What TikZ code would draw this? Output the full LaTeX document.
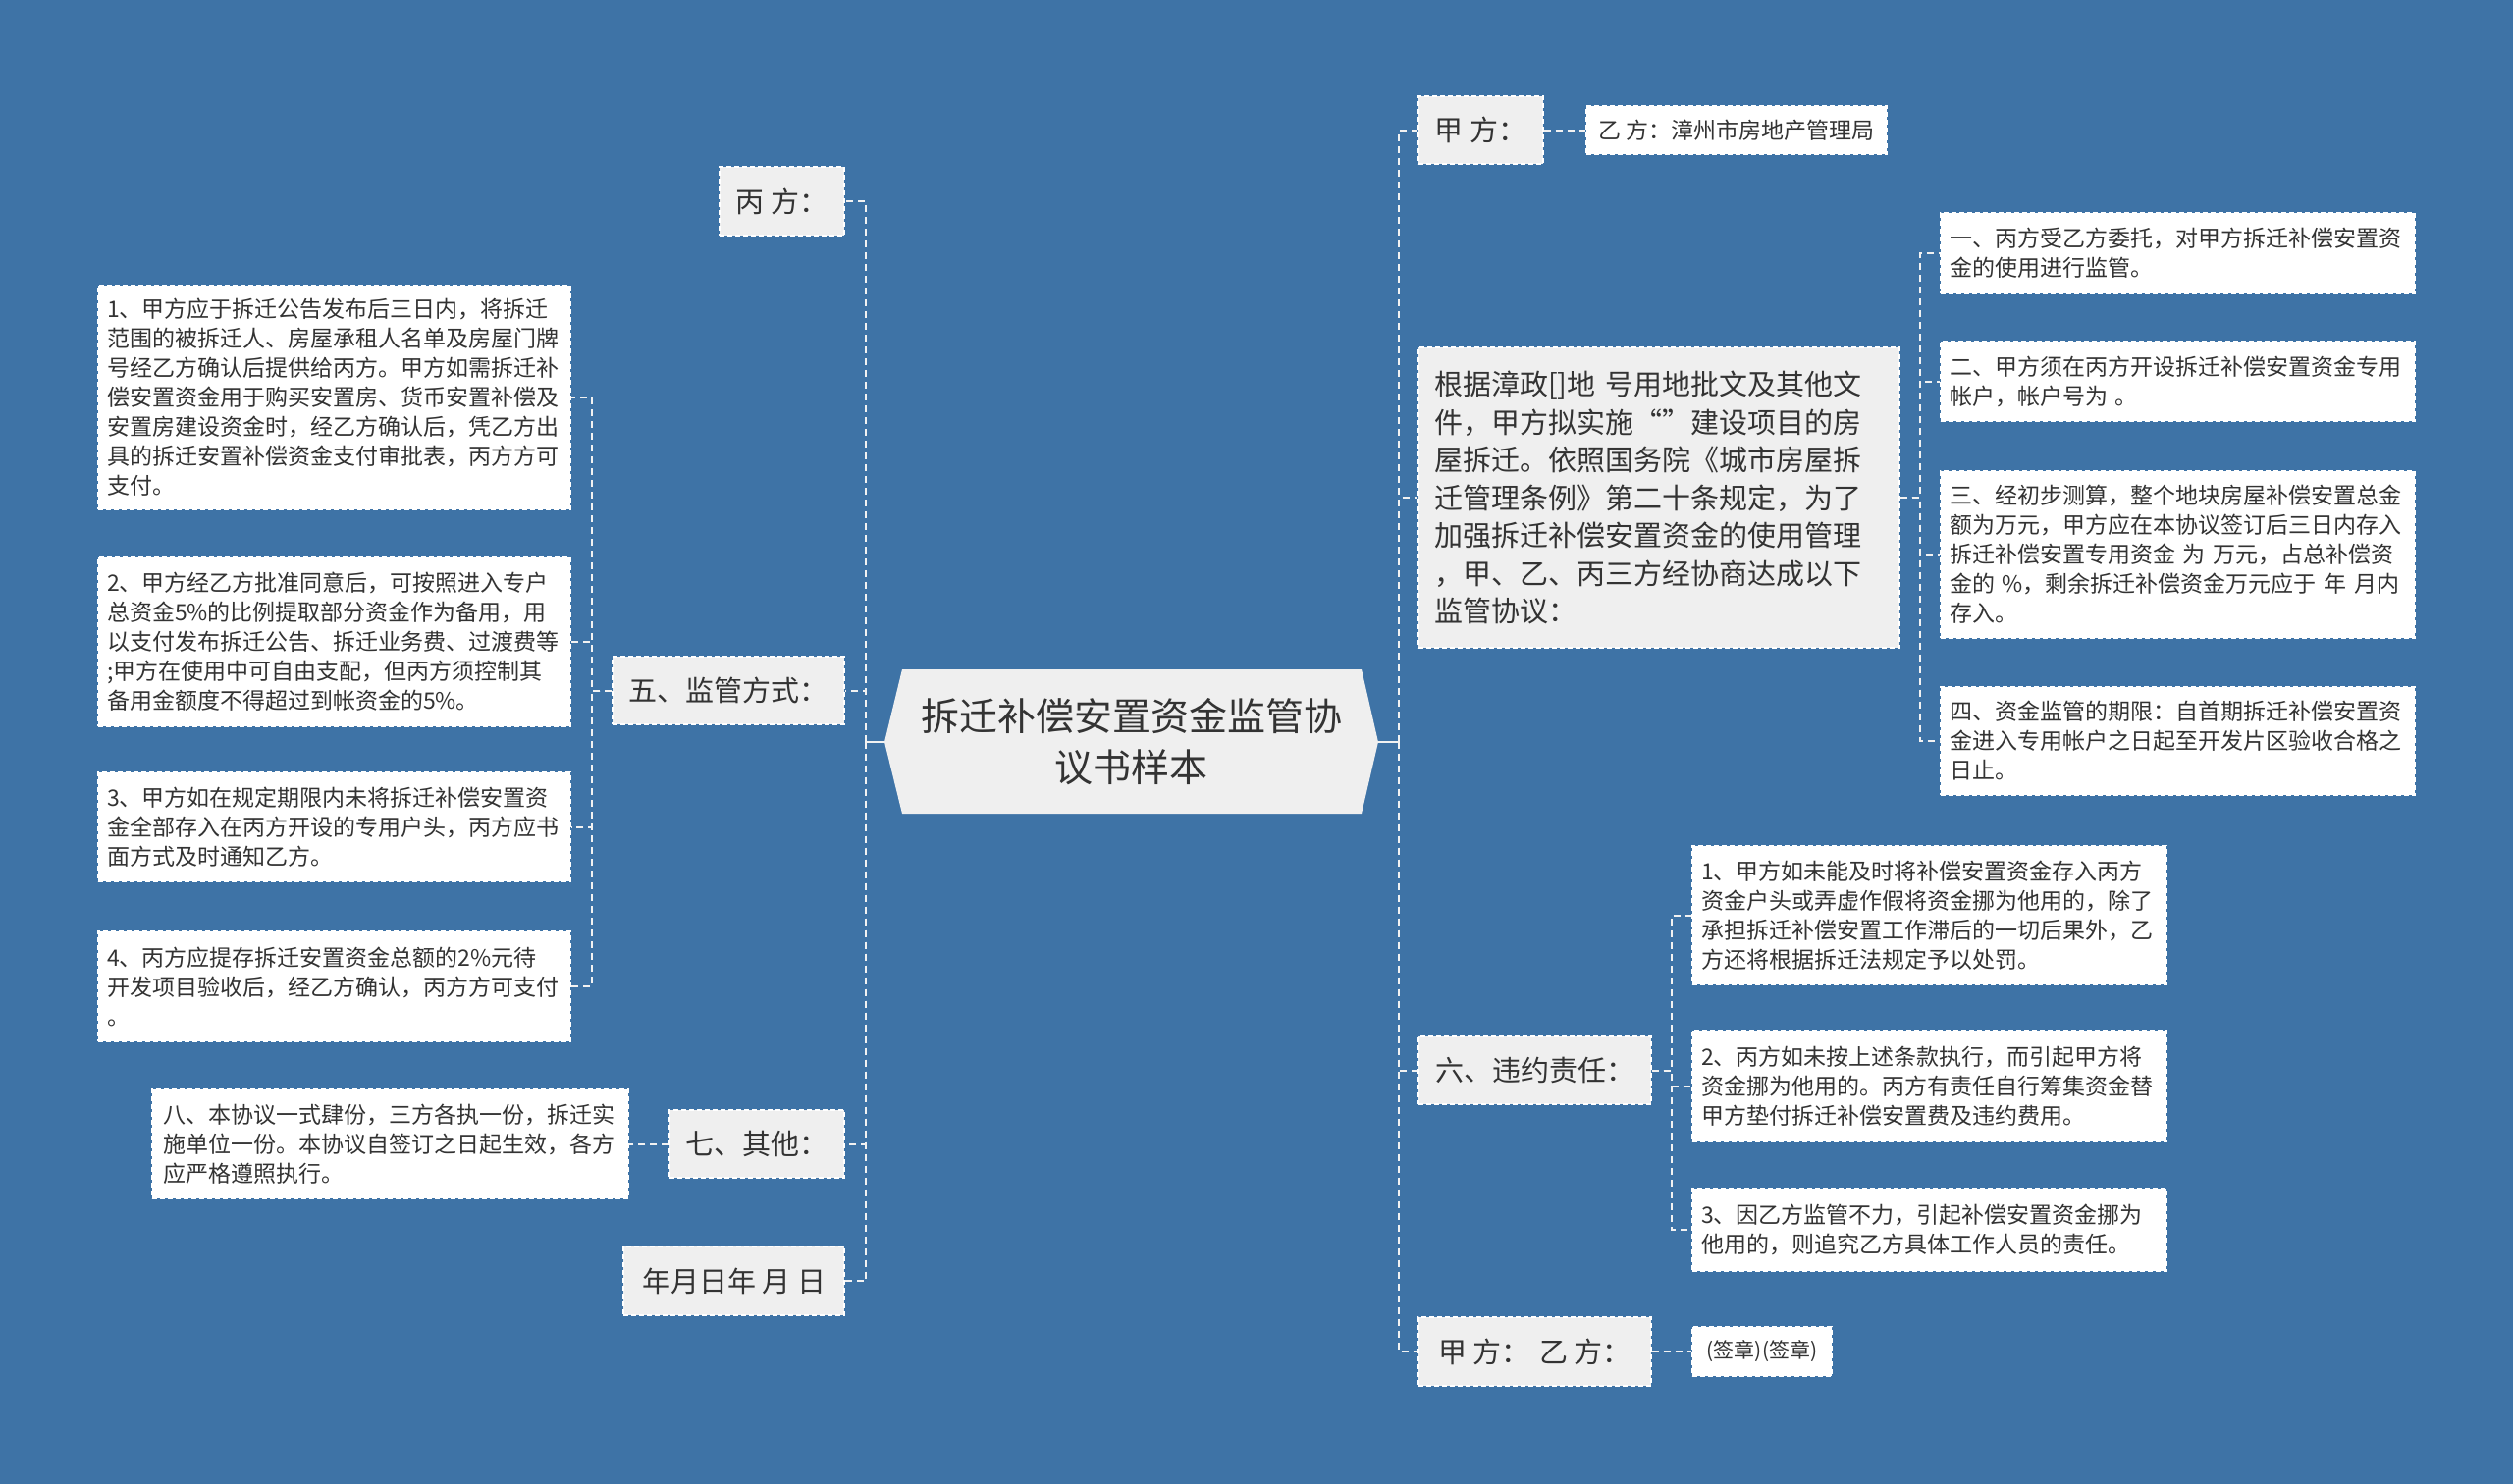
\documentclass[tikz,border=0pt]{standalone}
\usepackage{fontspec}
\setmainfont{Noto Sans CJK SC}
\usetikzlibrary{calc}
\definecolor{bg}{RGB}{62,115,166}
\definecolor{boxgrey}{RGB}{239,239,239}
\definecolor{txt}{RGB}{51,51,51}
\definecolor{lnc}{RGB}{242,242,242}
\begin{document}
\begin{tikzpicture}[x=1pt,y=-1pt,
  base/.style={draw=white, dash pattern=on 5pt off 3pt, line width=1.2pt, text=txt, inner sep=0pt},
  lbl/.style={base, fill=boxgrey, align=center, font=\fontsize{29}{34}\selectfont},
  leaf/.style={base, fill=white, align=left, inner xsep=9pt, font=\fontsize{23}{30}\selectfont},
  conn/.style={draw=lnc, line width=2pt, dash pattern=on 7pt off 5pt},
  connsolid/.style={draw=lnc, line width=2pt}]
\useasboundingbox (0,0) rectangle (2560,1512);
\fill[bg] (0,0) rectangle (2560,1512);

% centre
\fill[boxgrey] (901,756) -- (919,682) -- (1387,682) -- (1404,756) -- (1387,829) -- (919,829) -- cycle;
\node[font=\fontsize{39}{52}\selectfont, text=txt, align=center, minimum width=503pt, minimum height=147pt, inner sep=0pt] (ctr) at (1152.5,755.5) {拆迁补偿安置资金监管协\\议书样本};

% left side
\node[lbl, minimum width=127pt, minimum height=70pt] (bing) at (796.5,205) {丙 方：};
\node[lbl, minimum width=236pt, minimum height=69pt] (wu) at (742,703.5) {五、监管方式：};
\node[lbl, minimum width=178pt, minimum height=69pt] (qi) at (771,1165.5) {七、其他：};
\node[lbl, minimum width=225pt, minimum height=70pt] (nian) at (747.5,1305) {年月日年 月 日};

\node[leaf, text width=463pt, minimum height=228pt] (L1) at (340.5,405) {1、甲方应于拆迁公告发布后三日内，将拆迁\\范围的被拆迁人、房屋承租人名单及房屋门牌\\号经乙方确认后提供给丙方。甲方如需拆迁补\\偿安置资金用于购买安置房、货币安置补偿及\\安置房建设资金时，经乙方确认后，凭乙方出\\具的拆迁安置补偿资金支付审批表，丙方方可\\支付。};
\node[leaf, text width=463pt, minimum height=172pt] (L2) at (340.5,654) {2、甲方经乙方批准同意后，可按照进入专户\\总资金5\%的比例提取部分资金作为备用，用\\以支付发布拆迁公告、拆迁业务费、过渡费等\\;甲方在使用中可自由支配，但丙方须控制其\\备用金额度不得超过到帐资金的5\%。};
\node[leaf, text width=463pt, minimum height=111pt] (L3) at (340.5,842.5) {3、甲方如在规定期限内未将拆迁补偿安置资\\金全部存入在丙方开设的专用户头，丙方应书\\面方式及时通知乙方。};
\node[leaf, text width=463pt, minimum height=112pt] (L4) at (340.5,1005) {4、丙方应提存拆迁安置资金总额的2\%元待\\开发项目验收后，经乙方确认，丙方方可支付\\。};
\node[leaf, text width=463pt, minimum height=111pt, inner xsep=11pt] (ba) at (397.5,1165.5) {八、本协议一式肆份，三方各执一份，拆迁实\\施单位一份。本协议自签订之日起生效，各方\\应严格遵照执行。};

% right side
\node[lbl, minimum width=127pt, minimum height=69pt] (jia) at (1508.5,132.5) {甲 方：};
\node[leaf, align=center, inner xsep=0pt, minimum width=306pt, minimum height=49pt] (yi) at (1769,132.5) {乙 方：漳州市房地产管理局};
\node[base, fill=boxgrey, align=left, inner xsep=16pt, font=\fontsize{29}{38.5}\selectfont, text width=458pt, minimum height=306pt] (gen) at (1690,507) {根据漳政[]地 号用地批文及其他文\\件，甲方拟实施“”建设项目的房\\屋拆迁。依照国务院《城市房屋拆\\迁管理条例》第二十条规定，为了\\加强拆迁补偿安置资金的使用管理\\，甲、乙、丙三方经协商达成以下\\监管协议：};

\node[leaf, text width=465pt, minimum height=82pt] (R1) at (2218.5,258) {一、丙方受乙方委托，对甲方拆迁补偿安置资\\金的使用进行监管。};
\node[leaf, text width=465pt, minimum height=81pt] (R2) at (2218.5,388.5) {二、甲方须在丙方开设拆迁补偿安置资金专用\\帐户，帐户号为 。};
\node[leaf, text width=465pt, minimum height=170pt] (R3) at (2218.5,565) {三、经初步测算，整个地块房屋补偿安置总金\\额为万元，甲方应在本协议签订后三日内存入\\拆迁补偿安置专用资金 为 万元，占总补偿资\\金的 \%，剩余拆迁补偿资金万元应于 年 月内\\存入。};
\node[leaf, text width=465pt, minimum height=110pt] (R4) at (2218.5,755) {四、资金监管的期限：自首期拆迁补偿安置资\\金进入专用帐户之日起至开发片区验收合格之\\日止。};

\node[lbl, minimum width=237pt, minimum height=69pt] (liu) at (1563.5,1090.5) {六、违约责任：};
\node[leaf, text width=465pt, minimum height=141pt] (S1) at (1965.5,932.5) {1、甲方如未能及时将补偿安置资金存入丙方\\资金户头或弄虚作假将资金挪为他用的，除了\\承担拆迁补偿安置工作滞后的一切后果外，乙\\方还将根据拆迁法规定予以处罚。};
\node[leaf, text width=465pt, minimum height=113pt] (S2) at (1965.5,1106.5) {2、丙方如未按上述条款执行，而引起甲方将\\资金挪为他用的。丙方有责任自行筹集资金替\\甲方垫付拆迁补偿安置费及违约费用。};
\node[leaf, text width=465pt, minimum height=84pt] (S3) at (1965.5,1253) {3、因乙方监管不力，引起补偿安置资金挪为\\他用的，则追究乙方具体工作人员的责任。};

\node[lbl, minimum width=237pt, minimum height=70pt] (jy) at (1563.5,1377) {甲 方：\hspace{10pt}乙 方：};
\node[leaf, align=center, inner xsep=0pt, font=\fontsize{21}{26}\selectfont, minimum width=142pt, minimum height=50pt] (qz) at (1795,1377) {(签章)(签章)};

% connectors, left
\coordinate (tl) at (882,755.5);
\draw[connsolid] (ctr.west) -- (tl);
\draw[conn] (tl) |- (bing.east);
\draw[conn] (tl) |- (wu.east);
\draw[conn] (tl) |- (qi.east);
\draw[conn] (tl) |- (nian.east);
\coordinate (tw) at (603,703.5);
\draw[conn] (wu.west) -- (tw) |- (L1.east);
\draw[conn] (wu.west) -- (tw) |- (L2.east);
\draw[conn] (wu.west) -- (tw) |- (L3.east);
\draw[conn] (wu.west) -- (tw) |- (L4.east);
\draw[conn] (qi.west) -- (ba.east);

% connectors, right
\coordinate (tr) at (1425,755.5);
\draw[connsolid] (ctr.east) -- (tr);
\draw[conn] (tr) |- (jia.west);
\draw[conn] (tr) |- (gen.west);
\draw[conn] (tr) |- (liu.west);
\draw[conn] (tr) |- (jy.west);
\draw[conn] (jia.east) -- (yi.west);
\coordinate (tg) at (1956,507);
\draw[conn] (gen.east) -- (tg) |- (R1.west);
\draw[conn] (gen.east) -- (tg) |- (R2.west);
\draw[conn] (gen.east) -- (tg) |- (R3.west);
\draw[conn] (gen.east) -- (tg) |- (R4.west);
\coordinate (ts) at (1703,1090.5);
\draw[conn] (liu.east) -- (ts) |- (S1.west);
\draw[conn] (liu.east) -- (ts) |- (S2.west);
\draw[conn] (liu.east) -- (ts) |- (S3.west);
\draw[conn] (jy.east) -- (qz.west);
\end{tikzpicture}
\end{document}
